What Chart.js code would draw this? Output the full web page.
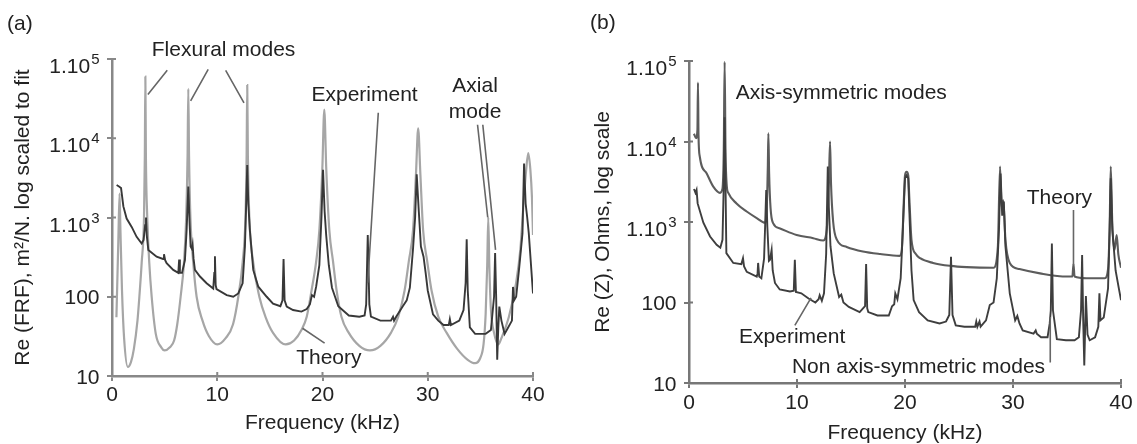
<!DOCTYPE html>
<html>
<head>
<meta charset="utf-8">
<script src="https://cdn.jsdelivr.net/npm/chart.js@4.4.0/dist/chart.umd.min.js"></script>
<style>
  html, body { margin: 0; padding: 0; background: #fff; }
  body { width: 1137px; height: 444px; position: relative; overflow: hidden;
         font-family: "Liberation Sans", Arial, sans-serif; }
  .panel { position: absolute; top: 0; height: 444px; }
  #boxA { left: 0; width: 568px; }
  #boxB { left: 568px; width: 569px; }
  .tag { position: absolute; font-size: 21px; line-height: 24px; color: #222; }
</style>
</head>
<body>
<div class="panel" id="boxA"><canvas id="chartA"></canvas></div>
<div class="panel" id="boxB"><canvas id="chartB"></canvas></div>
<div class="tag" style="left:7px; top:11px">(a)</div>
<div class="tag" style="left:590px; top:10px">(b)</div>
<script>
// ---- tick labels ----
const yTickValues = [10, 100, 1000, 10000, 100000];
const yTickBase = ['10', '100', '1.10', '1.10', '1.10'];
const yTickExp = ['', '', '3', '4', '5'];

// ---- (a) experiment, frequency in kHz / Re(FRF) ----
const expAFreq = [
  0.44, 0.7, 0.86, 1.08, 1.39, 1.87, 2.34, 2.82, 3.0, 3.15,
  3.23, 3.3, 3.45, 4.24, 4.85, 4.94, 5.05, 5.19, 5.82, 6.3,
  6.38, 6.45, 6.65, 6.93, 7.09, 7.25, 7.38, 7.47, 7.6, 7.66,
  7.75, 7.88, 8.36, 8.99, 9.62, 9.72, 9.78, 9.85, 9.93, 10.9,
  11.52, 12.0, 12.41, 12.63, 12.75, 12.85, 12.95, 13.1, 13.42, 13.9,
  14.7, 15.3, 16.0, 16.2, 16.3, 16.4, 16.6, 17.2, 18.0, 18.5,
  18.8, 19.0, 19.2, 19.4, 19.7, 19.9, 20.05, 20.2, 20.35, 20.6,
  20.9, 21.5, 22.5, 23.5, 24.0, 24.15, 24.3, 24.45, 24.6, 25.5,
  26.5, 26.7, 26.8, 27.0, 27.6, 28.0, 28.3, 28.6, 28.8, 28.95,
  29.15, 29.35, 29.6, 29.8, 30.0, 30.5, 31.0, 31.5, 32.0, 32.1,
  32.2, 33.0, 33.4, 33.6, 33.7, 33.8, 34.0, 34.5, 35.5, 36.0,
  36.3, 36.4, 36.5, 36.6, 36.7, 36.8, 37.0, 37.3, 37.6, 38.0,
  38.1, 38.2, 38.4, 38.7, 39.0, 39.15, 39.3, 39.45, 39.6, 40.0
];
const expAVal = [
  2570, 2450, 2350, 1380, 970, 760, 570, 470, 520, 800,
  1000, 600, 390, 320, 300, 345, 290, 265, 218, 200,
  295, 200, 200, 290, 690, 2450, 800, 430, 400, 450,
  300, 218, 180, 148, 127, 200, 325, 140, 125, 105,
  100, 110, 148, 430, 1500, 4600, 1500, 690, 218, 134,
  100, 82, 76, 90, 300, 90, 75, 68, 65, 70,
  80, 105, 100, 135, 250, 1000, 4000, 1200, 600, 250,
  130, 76, 58, 56, 58, 80, 600, 80, 56, 50,
  50, 56, 50, 56, 75, 90, 130, 400, 1000, 3500,
  1200, 430, 320, 200, 120, 60, 50, 44, 44, 52,
  44, 50, 68, 150, 530, 120, 41, 34, 34, 38,
  100, 355, 100, 16, 40, 75, 50, 34, 40, 50,
  133, 90, 100, 240, 630, 4800, 1500, 1000, 630, 110
];

// ---- (a) theory ----
const thAFreq = [
  0.42, 0.6, 0.72, 0.8, 0.95, 1.15, 1.5, 1.8, 2.08, 2.42,
  2.6, 2.82, 3.04, 3.12, 3.17, 3.22, 3.35, 3.54, 3.77, 4.16,
  4.68, 5.0, 5.5, 5.9, 6.2, 6.52, 6.84, 7.05, 7.18, 7.25,
  7.32, 7.45, 7.72, 8.04, 8.6, 9.2, 10.0, 10.8, 11.5, 12.0,
  12.41, 12.68, 12.79, 12.85, 12.91, 13.05, 13.42, 14.0, 14.6, 15.3,
  16.5, 17.3, 18.0, 18.5, 18.96, 19.4, 19.7, 19.98, 20.17, 20.36,
  20.65, 21.0, 21.34, 21.8, 22.5, 23.5, 24.5, 25.5, 26.5, 27.2,
  27.8, 28.2, 28.6, 28.88, 29.09, 29.3, 29.56, 29.95, 30.36, 31.0,
  31.8, 32.8, 33.8, 34.5, 35.0, 35.3, 35.5, 35.65, 35.75, 35.85,
  36.0, 36.3, 36.7, 37.0, 37.7, 38.4, 38.8, 39.1, 39.35, 39.55,
  39.75, 39.9, 40.0
];
const thAVal = [
  55, 500, 2000, 700, 120, 30, 13, 15, 22, 50,
  100, 270, 1000, 6000, 60000, 6000, 1000, 270, 100, 34,
  23, 21, 23, 28, 45, 100, 270, 1000, 6000, 42000,
  6000, 1000, 270, 100, 50, 32, 25, 30, 45, 100,
  270, 1000, 6000, 47000, 6000, 1000, 270, 100, 55, 35,
  25, 28, 38, 56, 120, 280, 690, 4000, 23000, 4000,
  690, 280, 120, 56, 35, 24, 21, 24, 35, 56,
  120, 280, 690, 3500, 13300, 3500, 690, 280, 120, 56,
  35, 22, 16, 14.5, 17, 25, 60, 250, 1000, 250,
  70, 35, 25, 30, 55, 150, 400, 1500, 4000, 6500,
  4000, 1800, 600
];

// ---- (b) theory, Re(Z) ----
const thBFreq = [
  0.46, 0.65, 0.78, 0.83, 0.88, 1.0, 1.64, 2.25, 2.87, 3.1,
  3.22, 3.3, 3.38, 3.5, 3.64, 4.4, 5.34, 6.27, 7.04, 7.2,
  7.3, 7.35, 7.42, 7.55, 7.8, 8.43, 9.97, 11.5, 12.44, 12.75,
  12.95, 13.06, 13.15, 13.35, 13.7, 14.6, 16.1, 17.7, 19.5, 19.7,
  19.9, 20.0, 20.15, 20.3, 20.4, 20.6, 21.0, 21.4, 22.6, 24.2,
  25.7, 28.2, 28.6, 28.8, 28.95, 29.1, 29.3, 29.7, 30.6, 32.5,
  35.0, 35.5, 35.6, 35.7, 36.8, 38.5, 38.8, 38.95, 39.05, 39.2,
  39.4, 39.6, 39.75, 40.0
];
const thBVal = [
  12500, 11000, 14000, 54000, 12000, 6500, 4000, 2750, 2300, 2600,
  8000, 98000, 8000, 2800, 2300, 1700, 1350, 1120, 980, 1500,
  5000, 12600, 4000, 1500, 960, 830, 690, 630, 590, 800,
  3000, 10000, 3000, 1000, 600, 490, 430, 400, 380, 450,
  2000, 3800, 4200, 3800, 2000, 600, 400, 355, 310, 285,
  275, 270, 500, 4900, 1500, 1860, 600, 310, 260, 230,
  210, 210, 300, 210, 200, 200, 260, 900, 4900, 900,
  450, 690, 400, 270
];

// ---- (b) experiment ----
const expBFreq = [
  0.46, 0.6, 0.7, 0.8, 1.33, 1.95, 2.56, 2.9, 3.1, 3.22,
  3.3, 3.38, 3.46, 4.1, 4.85, 5.0, 5.1, 5.35, 6.27, 6.35,
  6.4, 6.5, 6.7, 6.95, 7.05, 7.15, 7.25, 7.4, 7.5, 7.65,
  7.75, 7.96, 8.4, 9.35, 9.7, 9.8, 9.9, 10.4, 11.07, 11.7,
  12.0, 12.1, 12.3, 12.5, 12.7, 12.85, 12.95, 13.1, 13.4, 13.9,
  14.1, 14.3, 14.8, 15.8, 16.3, 16.4, 16.5, 16.6, 17.45, 18.5,
  18.8, 19.0, 19.1, 19.3, 19.6, 19.8, 20.0, 20.15, 20.3, 20.45,
  20.6, 20.8, 21.3, 22.1, 23.2, 23.8, 24.1, 24.26, 24.4, 24.7,
  25.5, 26.5, 26.6, 26.7, 26.9, 27.0, 27.5, 27.85, 28.2, 28.5,
  28.7, 28.85, 29.0, 29.15, 29.3, 29.7, 30.2, 30.4, 30.6, 30.9,
  31.9, 32.1, 32.2, 32.6, 33.2, 33.4, 33.5, 33.6, 33.7, 34.06,
  34.9, 35.7, 36.1, 36.3, 36.4, 36.5, 36.6, 36.75, 36.9, 37.1,
  37.6, 37.9, 38.0, 38.1, 38.4, 38.8, 38.95, 39.05, 39.2, 39.5,
  39.8, 40.0
];
const expBVal = [
  2570, 2300, 2500, 1700, 980, 660, 520, 480, 600, 3000,
  20000, 3000, 410, 310, 300, 355, 280, 240, 210, 230,
  310, 210, 200, 350, 900, 2500, 900, 330, 340, 450,
  250, 175, 145, 137, 140, 340, 135, 130, 112, 100,
  110, 123, 105, 130, 400, 4900, 1500, 500, 230, 117,
  125, 100, 88, 76, 90, 300, 85, 76, 69, 69,
  90, 95, 130, 110, 200, 800, 3500, 3800, 3500, 900,
  250, 107, 76, 60, 55, 58, 70, 370, 70, 52,
  50, 50, 58, 50, 58, 50, 60, 93, 100, 200,
  800, 4000, 1200, 1800, 500, 130, 60, 68, 55, 45,
  41, 45, 41, 37, 37, 55, 80, 540, 80, 35,
  34, 34, 37, 80, 390, 60, 16.5, 120, 40, 34,
  37, 50, 130, 60, 65, 150, 800, 3500, 800, 250,
  150, 107
];

// ---- annotations, in data units (kHz, value) ----
const notesA = {
  texts: [['Flexural modes', 10.6, 129000], ['Experiment', 24.0, 35200],
          ['Axial', 34.5, 44900], ['mode', 34.5, 21600], ['Theory', 20.6, 16.9]],
  leaders: [[5.25, 72000, 3.41, 35600], [9.14, 74000, 7.47, 29700], [10.8, 72000, 12.54, 28000],
            [25.3, 21000, 24.3, 150], [34.73, 14800, 35.7, 1000], [35.23, 14800, 36.44, 390],
            [18.1, 40, 20.2, 26]]
};
const notesB = {
  texts: [['Axis-symmetric modes', 14.1, 40000], ['Theory', 34.3, 2000],
          ['Experiment', 9.55, 37.3], ['Non axis-symmetric modes', 21.25, 15.8]],
  leaders: [[35.6, 1410, 35.6, 290], [9.8, 52, 11.3, 114], [33.45, 18, 33.45, 66]]
};

const FONT = '"Liberation Sans", Arial, sans-serif';
const INK = '#222';

const pts = (fs, vs) => fs.map((f, i) => ({ x: f, y: vs[i] }));

// draws inner tick halves, superscript y labels and the notes
function makeDecor(notes, axisColor) {
  return {
    id: 'decor',
    afterDraw(chart) {
      const { ctx, chartArea } = chart;
      const xs = chart.scales.x, ys = chart.scales.y;
      ctx.save();
      ctx.strokeStyle = axisColor;
      ctx.lineWidth = 2;
      ctx.beginPath();
      xs.ticks.forEach(t => {
        const px = xs.getPixelForValue(t.value);
        ctx.moveTo(px, chartArea.bottom);
        ctx.lineTo(px, chartArea.bottom - 4);
      });
      yTickValues.forEach(v => {
        const py = ys.getPixelForValue(v);
        ctx.moveTo(chartArea.left, py);
        ctx.lineTo(chartArea.left + 4, py);
      });
      ctx.stroke();

      // y labels
      ctx.fillStyle = INK;
      ctx.textAlign = 'right';
      ctx.textBaseline = 'alphabetic';
      const right = chartArea.left - 12.5;
      yTickValues.forEach((v, i) => {
        const py = ys.getPixelForValue(v);
        if (yTickExp[i]) {
          ctx.font = '15px ' + FONT;
          ctx.fillText(yTickExp[i], right, py + 5);
          const w = ctx.measureText(yTickExp[i]).width;
          ctx.font = '21px ' + FONT;
          ctx.fillText(yTickBase[i], right - w - 1, py + 14);
        } else {
          ctx.font = '21px ' + FONT;
          ctx.fillText(yTickBase[i], right, py + 7.5);
        }
      });

      // leader lines
      ctx.strokeStyle = '#666';
      ctx.lineWidth = 1.6;
      ctx.beginPath();
      notes.leaders.forEach(l => {
        ctx.moveTo(xs.getPixelForValue(l[0]), ys.getPixelForValue(l[1]));
        ctx.lineTo(xs.getPixelForValue(l[2]), ys.getPixelForValue(l[3]));
      });
      ctx.stroke();

      // note texts
      ctx.font = '21px ' + FONT;
      ctx.textAlign = 'center';
      ctx.textBaseline = 'middle';
      notes.texts.forEach(t => {
        ctx.fillText(t[0], xs.getPixelForValue(t[1]), ys.getPixelForValue(t[2]));
      });
      ctx.restore();
    }
  };
}

function buildChart(id, datasets, opt) {
  const axisFont = { family: FONT, size: 21 };
  const titleFont = { family: FONT, size: 21, lineHeight: 1 };
  return new Chart(document.getElementById(id), {
    type: 'line',
    data: { datasets: datasets },
    options: {
      responsive: true,
      maintainAspectRatio: false,
      animation: false,
      layout: { padding: opt.padding },
      elements: { point: { radius: 0 } },
      plugins: { legend: { display: false }, tooltip: { enabled: false } },
      scales: {
        x: {
          type: 'linear', min: 0, max: 40,
          ticks: { stepSize: 10, font: axisFont, color: INK, padding: opt.xTickPad, maxRotation: 0 },
          grid: { drawOnChartArea: false, tickLength: 5, color: opt.axisColor, lineWidth: 2 },
          border: { color: opt.axisColor, width: 2.5 },
          title: { display: true, text: 'Frequency (kHz)', font: titleFont, color: INK,
                   padding: { top: 0, bottom: opt.xTitlePad } },
          afterFit: s => { s.height = opt.xHeight; }
        },
        y: {
          type: 'logarithmic', min: 10, max: 100000,
          ticks: { display: false },
          afterBuildTicks: s => { s.ticks = yTickValues.map(v => ({ value: v })); },
          grid: { drawOnChartArea: false, tickLength: 5, color: opt.axisColor, lineWidth: 2 },
          border: { color: opt.axisColor, width: 2.5 },
          title: { display: true, text: opt.yTitle, font: titleFont, color: INK,
                   padding: { top: opt.yTitlePad, bottom: 0 } },
          afterFit: s => { s.width = opt.yWidth; }
        }
      }
    },
    plugins: [makeDecor(opt.notes, opt.axisColor)]
  });
}

buildChart('chartA', [
  { data: pts(expAFreq, expAVal), borderColor: '#383838', borderWidth: 1.9, tension: 0 },
  { data: pts(thAFreq, thAVal), borderColor: '#a6a6a6', borderWidth: 2.2, cubicInterpolationMode: 'monotone' }
], {
  padding: { left: 0, right: 35, top: 59, bottom: 0 },
  yWidth: 112, xHeight: 68, xTickPad: 1.5, xTitlePad: 10.5, yTitlePad: 13,
  yTitle: 'Re (FRF), m\u00b2/N. log scaled to fit', axisColor: '#888', notes: notesA
});

buildChart('chartB', [
  { data: pts(expBFreq, expBVal), borderColor: '#3e3e3e', borderWidth: 1.9, tension: 0 },
  { data: pts(thBFreq, thBVal), borderColor: '#5c5c5c', borderWidth: 2.1, cubicInterpolationMode: 'monotone' }
], {
  padding: { left: 0, right: 16, top: 61, bottom: 0 },
  yWidth: 121, xHeight: 61, xTickPad: 2.5, xTitlePad: 0.5, yTitlePad: 25,
  yTitle: 'Re (Z), Ohms, log scale', axisColor: '#777', notes: notesB
});
</script>
</body>
</html>
